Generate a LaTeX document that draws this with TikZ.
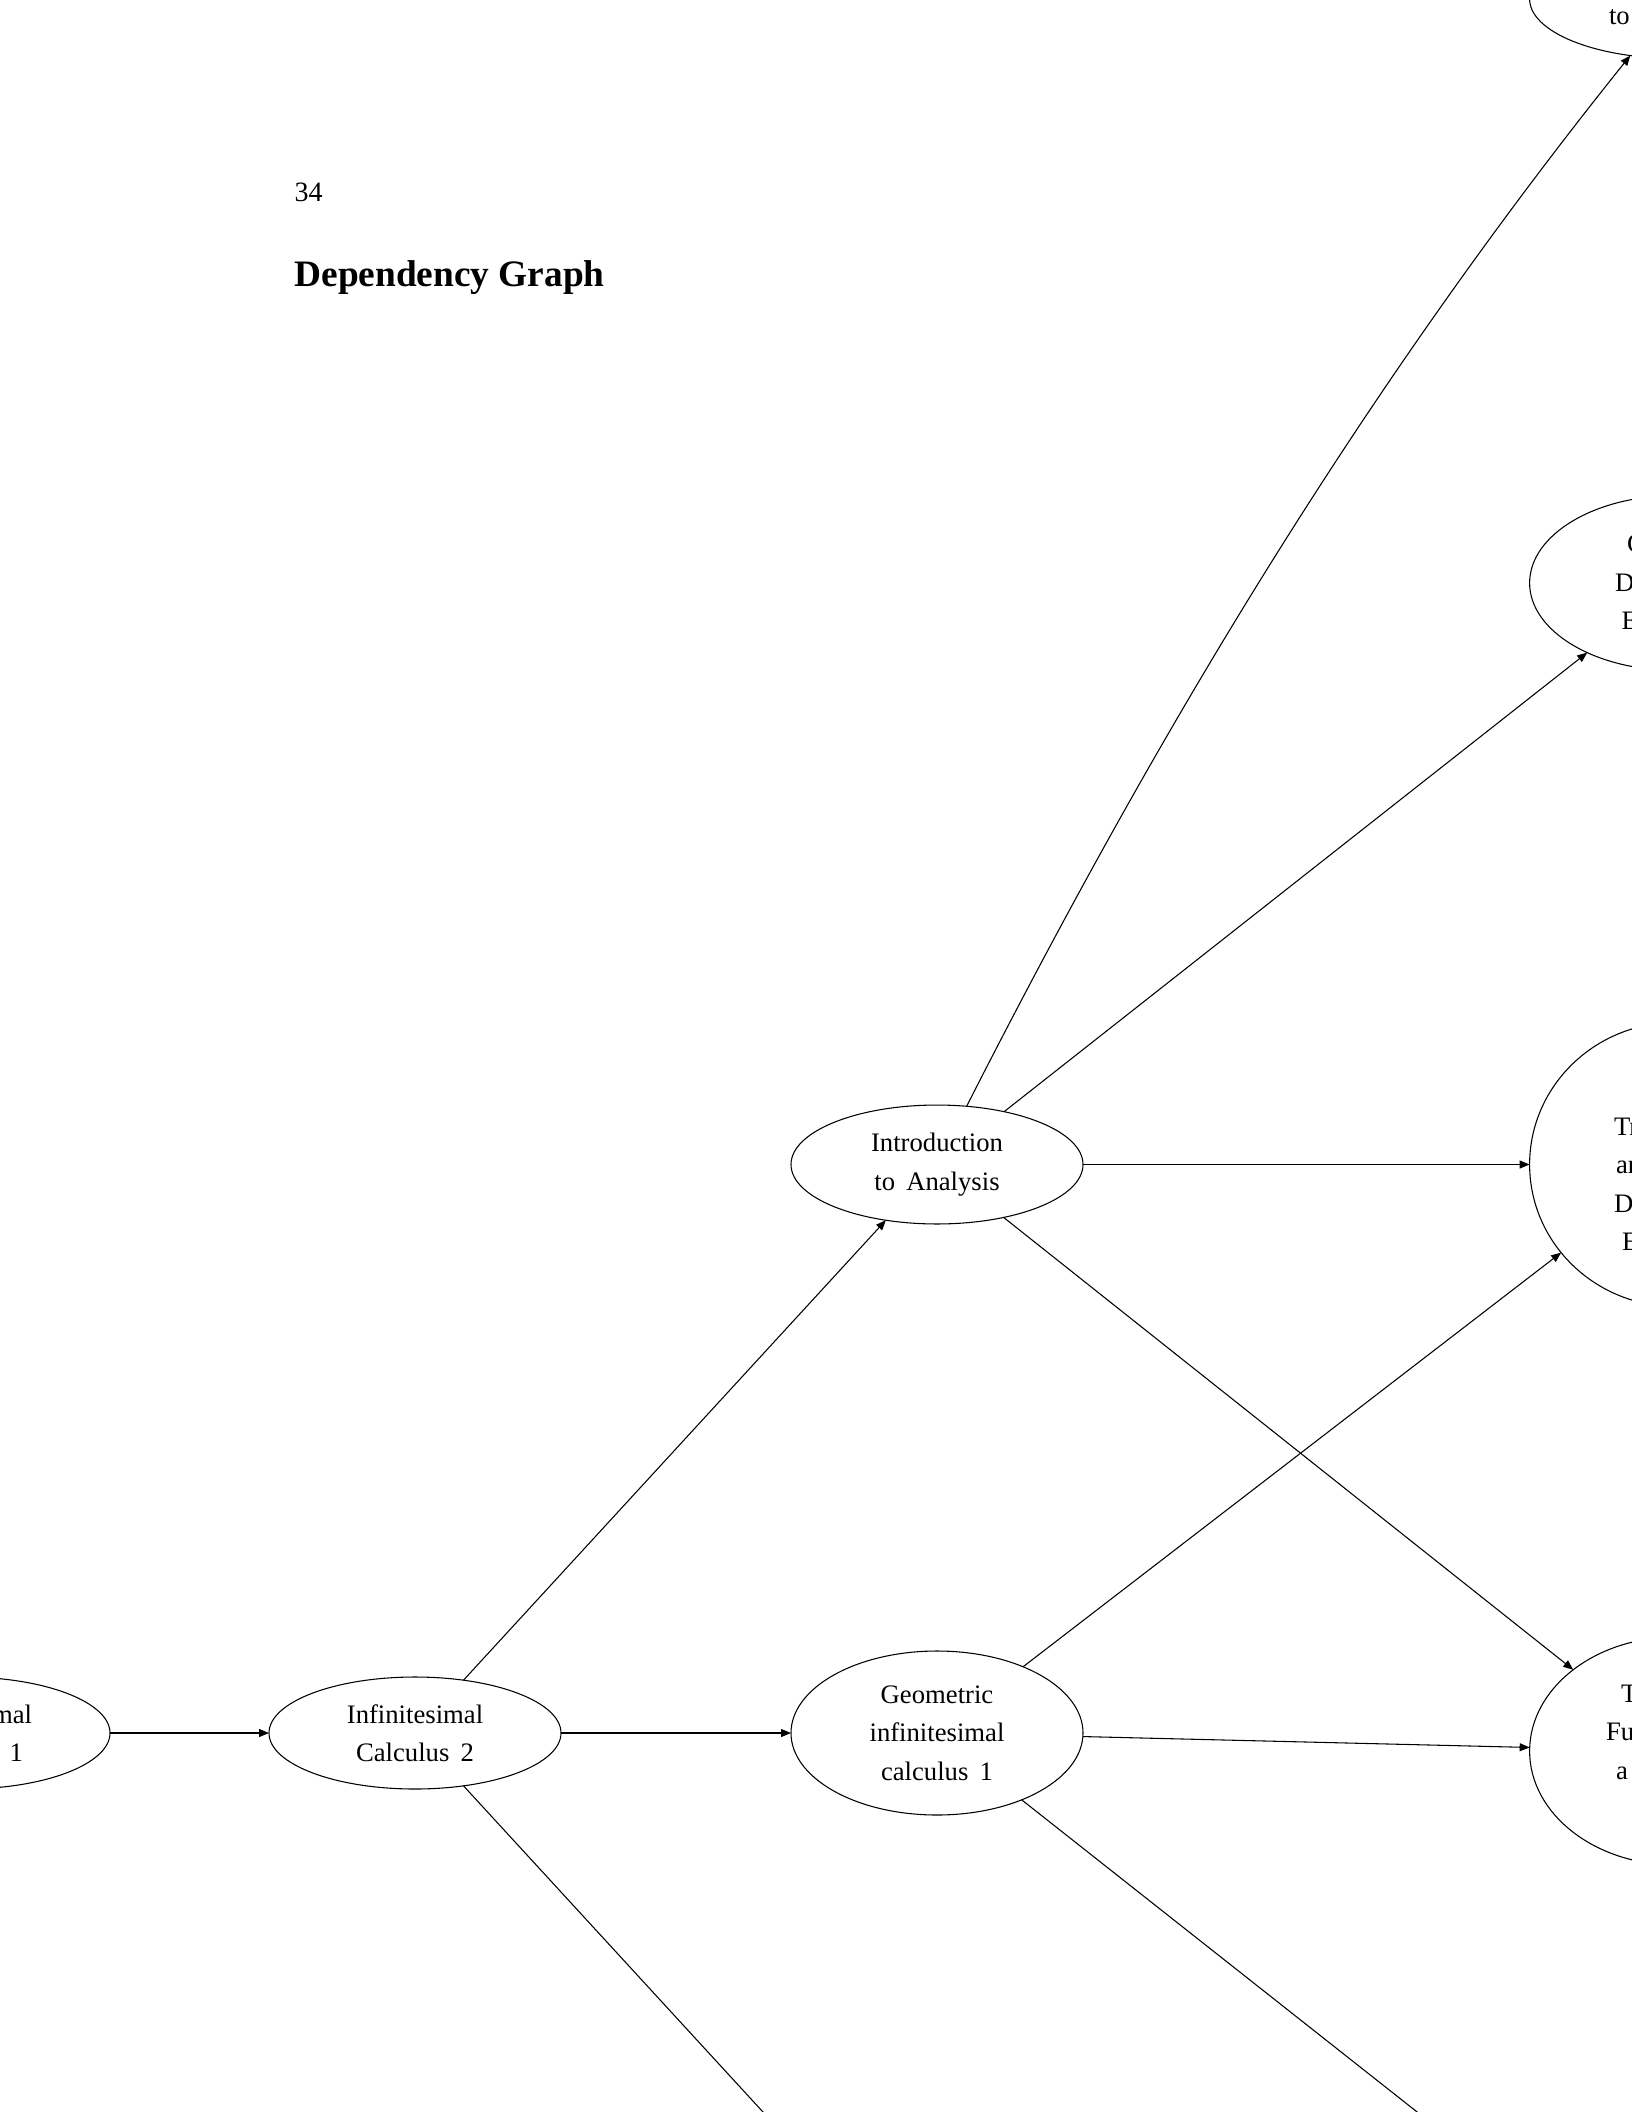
\documentclass[tikz,border=0pt]{standalone}
\usepackage{fontspec}
\setmainfont{Liberation Serif}
\usetikzlibrary{arrows.meta,shapes.geometric}
\newcommand\wsp{\hspace{4.2pt}}
\begin{document}
\begin{tikzpicture}[x=0.375pt,y=-0.375pt,
  gnode/.style={draw, ellipse, line width=0.4pt, inner sep=0pt, outer sep=0pt,
    minimum width=109.5pt, align=center, font=\fontsize{10}{14.44}\selectfont},
  frag/.style={anchor=base west, inner sep=0pt, outer sep=0pt, font=\fontsize{10}{14.44}\selectfont},
  dep/.style={line width=0.4pt, -{Triangle[length=3.75pt,width=3pt]}}]
\useasboundingbox (0,0) rectangle (1632,2112);
% header
\node[anchor=base west, inner sep=0pt, font=\fontsize{10.5}{12}\selectfont] (pagenum) at (294,201.5) {34};
\node[anchor=base west, inner sep=0pt, font=\fontsize{14}{17}\selectfont\bfseries] (title) at (294,286.7) {Dependency Graph};
% nodes
\node[gnode, minimum height=42pt] (calcA) at (-36,1733) {Infinitesimal\\Calculus\wsp 1};
\node[gnode, minimum height=42pt] (calcB) at (415,1733) {Infinitesimal\\Calculus\wsp 2};
\node[gnode, minimum height=44.6pt] (intro) at (937,1164.5) {Introduction\\to\wsp Analysis};
\node[gnode, minimum height=61.5pt] (geom) at (937,1733) {Geometric\\infinitesimal\\calculus\wsp 1};
\node[gnode, minimum height=44.6pt] (rtop) at (1675.6,-1) {};
\node[gnode, minimum height=65.6pt] (rB) at (1675.6,583) {};
\node[gnode, minimum height=106.5pt] (rC) at (1675.6,1164.5) {};
\node[gnode, minimum height=85.5pt] (rD) at (1675.6,1751) {};
% visible text fragments of the right-hand nodes
\node[frag] (rtopA) at (1609,25) {to};
\node[frag] (rBa) at (1627,552.7) {C};
\node[frag] (rBb) at (1615,591.2) {D};
\node[frag] (rBc) at (1621.7,629.7) {E};
\node[frag] (rCa) at (1614,1135) {Tr};
\node[frag] (rCb) at (1616,1173.5) {an};
\node[frag] (rCc) at (1614,1212) {D};
\node[frag] (rCd) at (1622,1250.5) {E};
\node[frag] (rDa) at (1621,1702.3) {T};
\node[frag] (rDb) at (1606,1740.8) {Fu};
\node[frag] (rDc) at (1616,1779.3) {a};
% off-page targets
\coordinate (offA) at (937,2301.5);
\coordinate (offB) at (1675.6,2316);
% edges
\draw[dep] (calcA) -- (calcB);
\draw[dep] (calcB) -- (intro);
\draw[dep] (calcB) -- (geom);
\draw[dep] (calcB) -- (offA);
\draw[dep] (intro) .. controls (1145,755.5) and (1350,405) .. (rtop);
\draw[dep] (intro) -- (rB);
\draw[dep] (intro) -- (rC);
\draw[dep] (intro) -- (rD);
\draw[dep] (geom) -- (rC);
\draw[dep] (geom) -- (rD);
\draw[dep] (geom) -- (offB);
\end{tikzpicture}
\end{document}
